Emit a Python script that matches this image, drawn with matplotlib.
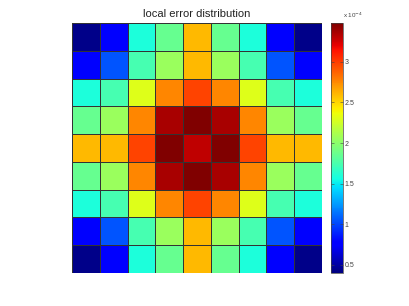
"""
Local error distribution on a 9x9 grid, shown as a jet-coloured mesh with a colorbar.
"""

import numpy as np
import matplotlib
matplotlib.use("Agg")
import matplotlib.pyplot as plt
from matplotlib.ticker import FixedLocator, FuncFormatter

plt.rcParams['font.family'] = ['Liberation Sans', 'DejaVu Sans']

# error values in units of 1e-4, one row per grid row (top to bottom)
row0 = [0.43, 0.77, 1.59, 1.86, 2.60, 1.86, 1.59, 0.77, 0.43]
row1 = [0.77, 1.04, 1.74, 2.05, 2.60, 2.05, 1.74, 1.04, 0.77]
row2 = [1.59, 1.74, 2.31, 2.76, 2.98, 2.76, 2.31, 1.74, 1.59]
row3 = [1.86, 2.05, 2.76, 3.37, 3.48, 3.37, 2.76, 2.05, 1.86]
row4 = [2.60, 2.60, 2.98, 3.48, 3.31, 3.48, 2.98, 2.60, 2.60]
rows = [row0, row1, row2, row3, row4, row3, row2, row1, row0]

scale = 1e-4
vmin = 0.40
vmax = 3.48
cbar_ticks = [0.5, 1, 1.5, 2, 2.5, 3]
title = "local error distribution"


def main():
    err = np.array(rows) * scale

    fig = plt.figure(figsize=(4.09, 3.06), dpi=100)
    ax = fig.add_axes([0.176, 0.108, 0.611, 0.817])
    cax = fig.add_axes([0.809, 0.108, 0.029, 0.817])

    mesh = ax.pcolormesh(err, cmap='jet', vmin=vmin * scale, vmax=vmax * scale,
                         edgecolors='#333333', linewidth=0.5)
    ax.invert_yaxis()
    ax.set_xticks([])
    ax.set_yticks([])
    for s in ax.spines.values():
        s.set_visible(False)
    ax.set_title(title, fontsize=8, color='#222222', pad=4)

    cb = fig.colorbar(mesh, cax=cax)
    cb.outline.set_linewidth(0.5)
    cb.outline.set_edgecolor('#444444')
    cax.yaxis.set_major_locator(FixedLocator([t * scale for t in cbar_ticks]))
    cax.yaxis.set_major_formatter(FuncFormatter(lambda v, p: f"{v / scale:g}"))
    cax.tick_params(labelsize=5, colors='#444444', length=2, width=0.4,
                    direction='in', left=True, right=True, pad=1.5)
    cax.text(1.0, 1.01, r"x 10$^{-4}$", transform=cax.transAxes, fontsize=4.5,
             color='#444444', ha='left', va='bottom')

    fig.savefig("out.png", dpi=100)


if __name__ == "__main__":
    main()
